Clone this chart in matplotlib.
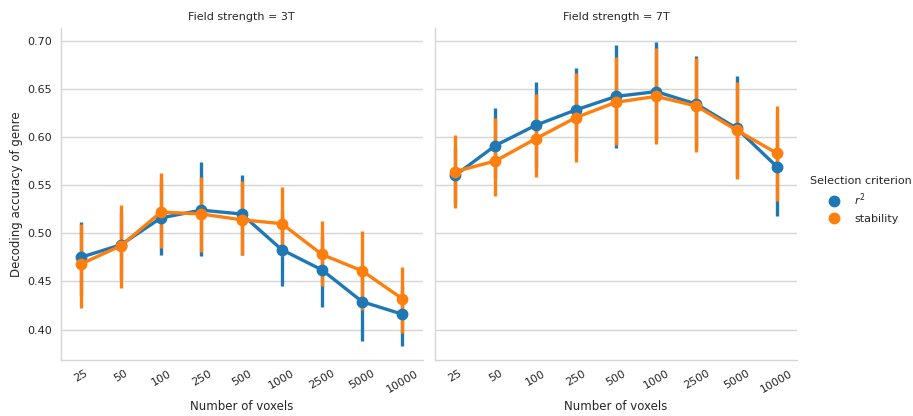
import matplotlib
matplotlib.use("Agg")
import matplotlib.pyplot as plt
from matplotlib.lines import Line2D
import numpy as np

voxels = ["25", "50", "100", "250", "500", "1000", "2500", "5000", "10000"]
fields = ["3T", "7T"]

# mean and CI per field, per selection criterion
r2_mean = {
    "3T": [0.475, 0.488, 0.516, 0.524, 0.520, 0.483, 0.462, 0.429, 0.416],
    "7T": [0.560, 0.591, 0.612, 0.628, 0.642, 0.647, 0.634, 0.609, 0.569],
}
r2_lo = {
    "3T": [0.435, 0.453, 0.477, 0.476, 0.477, 0.445, 0.423, 0.388, 0.383],
    "7T": [0.530, 0.557, 0.568, 0.585, 0.588, 0.597, 0.588, 0.558, 0.518],
}
r2_hi = {
    "3T": [0.512, 0.521, 0.555, 0.574, 0.560, 0.523, 0.497, 0.465, 0.445],
    "7T": [0.590, 0.630, 0.657, 0.672, 0.695, 0.698, 0.684, 0.663, 0.619],
}
stab_mean = {
    "3T": [0.468, 0.487, 0.522, 0.520, 0.514, 0.510, 0.478, 0.461, 0.432],
    "7T": [0.564, 0.575, 0.598, 0.620, 0.636, 0.642, 0.632, 0.607, 0.583],
}
stab_lo = {
    "3T": [0.422, 0.443, 0.485, 0.481, 0.477, 0.476, 0.445, 0.420, 0.397],
    "7T": [0.526, 0.539, 0.558, 0.574, 0.592, 0.593, 0.584, 0.556, 0.533],
}
stab_hi = {
    "3T": [0.510, 0.529, 0.563, 0.558, 0.554, 0.548, 0.513, 0.502, 0.465],
    "7T": [0.602, 0.620, 0.644, 0.666, 0.683, 0.692, 0.682, 0.657, 0.632],
}

blue = "#1f77b4"
orange = "#ff7f0e"
txt = "#262626"
grid = "#d5d5d5"

plt.rcParams["font.family"] = "DejaVu Sans"
fig = plt.figure(figsize=(9.13, 4.16), dpi=100)
ax1 = fig.add_axes([60.5 / 913, 56 / 416, 362 / 913, 332 / 416])
ax2 = fig.add_axes([435 / 913, 56 / 416, 362 / 913, 332 / 416], sharey=ax1)

x = np.arange(len(voxels))
for ax, f in zip([ax1, ax2], fields):
    for mean, lo, hi, c in [(r2_mean, r2_lo, r2_hi, blue),
                            (stab_mean, stab_lo, stab_hi, orange)]:
        ax.vlines(x, lo[f], hi[f], color=c, lw=2.4, zorder=3)
        ax.plot(x, mean[f], color=c, lw=2.4, marker="o", ms=7.5, zorder=4)
    ax.set_xlim(-0.5, len(voxels) - 0.5)
    ax.set_xticks(x)
    ax.set_xticklabels(voxels, rotation=30, fontsize=8, color=txt)
    ax.set_title("Field strength = " + f, fontsize=8, color=txt, pad=6)
    ax.set_xlabel("Number of voxels", fontsize=8.5, color=txt)
    ax.yaxis.grid(True, color=grid, lw=1)
    ax.set_axisbelow(True)
    for s in ["top", "right"]:
        ax.spines[s].set_visible(False)
    for s in ["left", "bottom"]:
        ax.spines[s].set_color(grid)
        ax.spines[s].set_linewidth(1)
    ax.tick_params(length=0, pad=6, labelsize=8, colors=txt)

ax1.set_ylim(0.3685, 0.713)
ax1.set_yticks([0.40, 0.45, 0.50, 0.55, 0.60, 0.65, 0.70])
ax1.set_yticklabels(["0.40", "0.45", "0.50", "0.55", "0.60", "0.65", "0.70"])
ax1.set_ylabel("Decoding accuracy of genre", fontsize=8.5, color=txt, labelpad=3)
plt.setp(ax2.get_yticklabels(), visible=False)

handles = [Line2D([], [], ls="", marker="o", ms=7.5, color=blue),
           Line2D([], [], ls="", marker="o", ms=7.5, color=orange)]
leg = fig.legend(handles, ["$r^2$", "stability"], title="Selection criterion",
                 loc="center left", bbox_to_anchor=(800 / 913, 0.52),
                 frameon=False, fontsize=8, title_fontsize=8)
for t in leg.get_texts():
    t.set_color(txt)
leg.get_title().set_color(txt)

fig.savefig("out.png", dpi=100)
